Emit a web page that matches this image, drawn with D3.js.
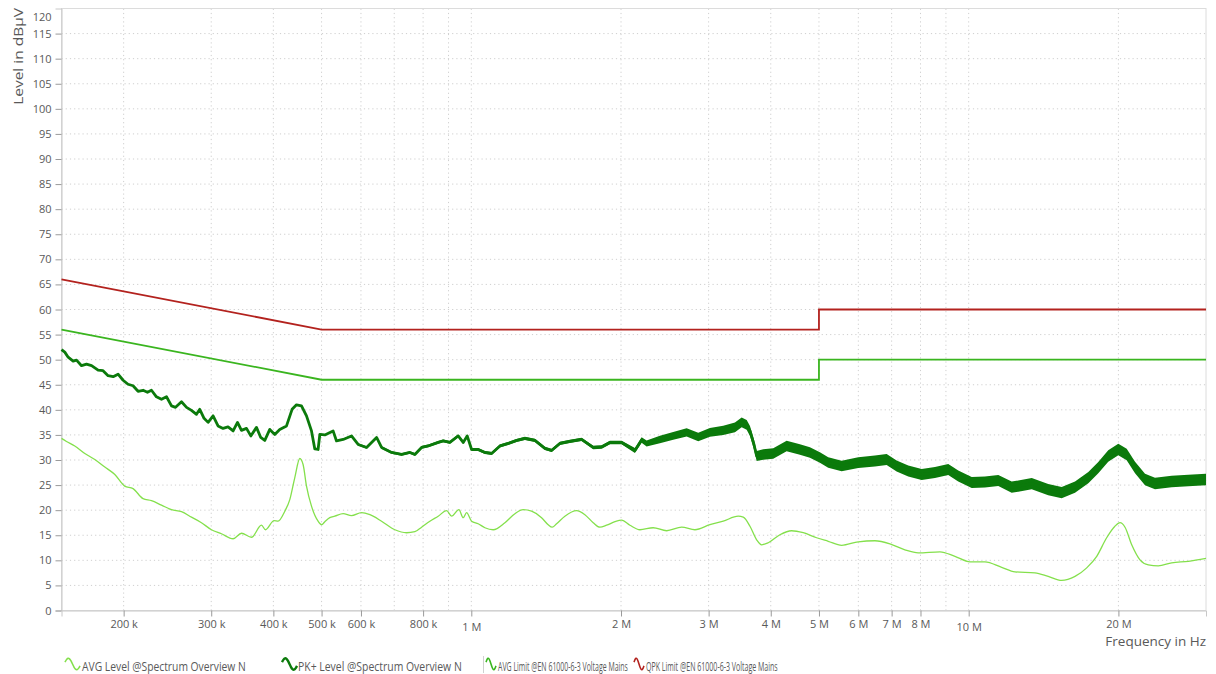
<!DOCTYPE html>
<html>
<head>
<meta charset="utf-8">
<script src="https://cdn.jsdelivr.net/npm/d3@7"></script>
<style>
  body { margin: 0; background: #fff; }
  svg { display: block; font-family: "Open Sans", sans-serif; }
</style>
</head>
<body>
<svg id="chart" width="1216" height="674"></svg>
<script>
// frequencies in MHz, levels in dBµV
const avgFreq = [0.15, 0.1535, 0.1595, 0.1671, 0.175, 0.1833, 0.192, 0.201, 0.2089, 0.2188,
  0.2275, 0.2383, 0.2496, 0.2614, 0.2738, 0.2867, 0.3003, 0.3145, 0.332, 0.3451,
  0.3615, 0.3786, 0.3857, 0.4013, 0.4088, 0.4218, 0.4316, 0.4417, 0.4521, 0.459,
  0.4663, 0.4772, 0.492, 0.5, 0.5076, 0.5194, 0.5316, 0.5525, 0.5743, 0.6015,
  0.6254, 0.6601, 0.702, 0.7411, 0.7701, 0.7944, 0.8255, 0.8579, 0.8919, 0.9128,
  0.9442, 0.9632, 0.9785, 1.0014, 1.0324, 1.065, 1.1067, 1.1683, 1.2237, 1.2716,
  1.3219, 1.3845, 1.4275, 1.4542, 1.4841, 1.5423, 1.6281, 1.692, 1.7583, 1.8138,
  1.871, 1.9443, 2.0055, 2.084, 2.183, 2.321, 2.47, 2.648, 2.816, 3.018,
  3.21, 3.441, 3.522, 3.633, 3.747, 3.834, 3.954, 4.173, 4.405, 4.649,
  4.946, 5.219, 5.554, 5.998, 6.478, 6.945, 7.444, 7.918, 8.756, 9.384,
  10.06, 10.78, 11.65, 12.39, 13.59, 14.45, 15.38, 16.36, 17.27, 18.09,
  18.94, 19.68, 20.15, 20.62, 21.27, 22.1, 22.97, 24.05, 25.59, 27.64, 30];
const avgLevel = [34.3, 33.7, 32.8, 31.3, 30.1, 28.6, 27.1, 24.8, 24.3, 22.3,
  21.9, 21.0, 20.1, 19.7, 18.6, 17.5, 16.1, 15.3, 14.3, 15.4,
  14.6, 17.0, 16.1, 17.9, 17.8, 19.8, 22.1, 26.5, 30.3, 29.1,
  24.8, 20.8, 17.8, 17.1, 17.7, 18.5, 18.8, 19.3, 18.9, 19.5,
  19.1, 17.8, 16.1, 15.5, 15.7, 16.6, 17.8, 18.8, 19.9, 18.8,
  20.1, 18.5, 19.5, 17.8, 17.3, 16.5, 16.1, 17.5, 19.3, 20.1,
  19.8, 18.5, 17.1, 16.6, 17.3, 18.8, 19.9, 19.1, 17.5, 16.6,
  17.0, 17.7, 18.0, 17.0, 16.1, 16.5, 15.9, 16.6, 16.1, 17.1,
  17.8, 18.8, 18.6, 16.8, 14.1, 13.1, 13.5, 15.1, 15.9, 15.5,
  14.5, 13.8, 13.0, 13.7, 13.9, 13.3, 12.1, 11.5, 11.7, 10.8,
  9.7, 9.7, 8.6, 7.7, 7.5, 6.8, 6.0, 6.8, 8.5, 10.8,
  14.5, 16.8, 17.5, 16.6, 13.1, 10.1, 9.1, 8.9, 9.5, 9.8, 10.4];

const pkFreq = [0.15, 0.1523, 0.1547, 0.1583, 0.1608, 0.1646, 0.1684, 0.1724, 0.1777, 0.1818,
  0.1861, 0.1905, 0.1949, 0.1995, 0.2041, 0.2089, 0.2138, 0.2188, 0.2233, 0.2275,
  0.2328, 0.2383, 0.2439, 0.2496, 0.2543, 0.2614, 0.2676, 0.2738, 0.2802, 0.2845,
  0.2902, 0.2957, 0.3026, 0.3096, 0.3169, 0.3243, 0.332, 0.3388, 0.3451, 0.3532,
  0.3603, 0.3699, 0.3773, 0.3844, 0.3934, 0.4026, 0.412, 0.4251, 0.4362, 0.4452,
  0.4556, 0.4663, 0.4772, 0.4846, 0.492, 0.496, 0.5076, 0.5274, 0.5358, 0.5525,
  0.5743, 0.5922, 0.6158, 0.645, 0.6601, 0.6914, 0.7241, 0.7525, 0.7701, 0.7944,
  0.819, 0.8579, 0.878, 0.9056, 0.9411, 0.9632, 0.9812, 1.0014, 1.0324, 1.065,
  1.0985, 1.1416, 1.1863, 1.2334, 1.2817, 1.3424, 1.4059, 1.4501, 1.5069, 1.5783,
  1.6663, 1.7583, 1.8282, 1.8998, 2.0055, 2.1329, 2.2, 2.2515, 2.3943, 2.5463,
  2.7099, 2.8595, 3.018, 3.21, 3.389, 3.496, 3.578, 3.633, 3.701, 3.747,
  3.863, 4.046, 4.305, 4.578, 4.795, 5.022, 5.219, 5.554, 5.998, 6.478,
  6.84, 7.164, 7.559, 8.045, 8.555, 9.098, 9.529, 10.14, 10.78, 11.47,
  12.2, 12.58, 13.39, 14.45, 15.38, 16.36, 17.4, 18.22, 19.08, 19.99,
  20.78, 21.6, 22.62, 23.69, 25.59, 27.64, 30];
const pkLevel = [52.0, 51.5, 50.5, 49.7, 49.9, 48.8, 49.1, 48.8, 47.9, 47.8,
  46.8, 46.6, 47.1, 45.9, 45.1, 44.8, 43.7, 43.9, 43.5, 43.9,
  42.6, 42.1, 42.6, 40.8, 40.5, 41.6, 40.5, 39.9, 39.1, 40.1,
  38.3, 37.5, 38.8, 36.8, 36.3, 36.6, 35.8, 37.5, 35.9, 36.3,
  34.8, 36.5, 34.5, 33.9, 36.1, 35.1, 36.1, 36.8, 40.1, 41.0,
  40.8, 38.8, 35.8, 32.2, 32.1, 35.1, 35.0, 35.8, 33.8, 34.1,
  34.8, 33.1, 32.5, 34.5, 32.5, 31.5, 31.1, 31.5, 31.1, 32.5,
  32.8, 33.5, 33.8, 33.5, 34.8, 33.5, 34.8, 32.1, 32.1, 31.5,
  31.3, 32.8, 33.3, 33.9, 34.3, 33.9, 32.3, 31.9, 33.3, 33.7,
  34.1, 32.5, 32.6, 33.5, 33.5, 31.9, 34.0, 33.3, 34.1, 34.8,
  35.5, 34.6, 35.5, 35.9, 36.5, 37.5, 37.0, 35.8, 33.1, 30.8,
  31.1, 31.3, 32.8, 32.1, 31.5, 30.5, 29.5, 28.8, 29.5, 29.8,
  30.1, 28.8, 27.8, 27.1, 27.5, 28.1, 26.8, 25.5, 25.6, 25.9,
  24.6, 24.8, 25.3, 24.1, 23.5, 24.6, 26.5, 28.5, 30.8, 32.1,
  31.1, 28.5, 26.1, 25.3, 25.7, 25.9, 26.1];

// half width of the PK+ noise band (dB) along the sweep
const noiseFreq = [0.15, 0.5, 0.6, 2, 2.4, 4, 30];
const noiseSpread = [0, 0, 0.25, 0.35, 0.75, 1.05, 1.15];

const avgLimitFreq = [0.15, 0.5, 5, 5, 30];
const avgLimitLevel = [56, 46, 46, 50, 50];
const qpkLimitFreq = [0.15, 0.5, 5, 5, 30];
const qpkLimitLevel = [66, 56, 56, 60, 60];

const xTickValues = [0.2, 0.3, 0.4, 0.5, 0.6, 0.8, 1, 2, 3, 4, 5, 6, 7, 8, 10, 20];
const xTickLabels = ['200 k', '300 k', '400 k', '500 k', '600 k', '800 k', '1 M', '2 M', '3 M',
  '4 M', '5 M', '6 M', '7 M', '8 M', '10 M', '20 M'];
const yTickValues = d3.range(0, 121, 5);

const legendItems = [
  { name: 'AVG Level @Spectrum Overview N', color: '#84e04c', width: 1.3 },
  { name: 'PK+ Level @Spectrum Overview N', color: '#0b7a0b', width: 2.8 },
  { name: 'AVG Limit @EN 61000-6-3 Voltage Mains', color: '#3ab51f', width: 1.8 },
  { name: 'QPK Limit @EN 61000-6-3 Voltage Mains', color: '#b3221e', width: 1.8 }
];

const textColor = '#595959';
const svg = d3.select('#chart');

const x = d3.scaleLog().domain([0.15, 30]).range([61.5, 1206]);
const y = d3.scaleLinear().domain([0, 120]).range([610.5, 8.5]);

// squeeze a text horizontally so it spans `len` pixels
function fitWidth(sel, len, anchorX, anchorY, rotate) {
  const natural = sel.node().getComputedTextLength();
  const k = Math.min(1.2, len / natural);
  sel.attr('x', 0).attr('y', 0)
    .attr('transform', `translate(${anchorX},${anchorY})${rotate ? ' rotate(-90)' : ''} scale(${k},1)`);
}

// grid
const grid = svg.append('g')
  .attr('stroke', '#cfcfcf')
  .attr('stroke-dasharray', '1.2,3');
grid.selectAll('line.h')
  .data(yTickValues.filter((d) => d > 0 && d < 120))
  .join('line')
  .attr('class', 'h')
  .attr('x1', x.range()[0]).attr('x2', x.range()[1])
  .attr('y1', (d) => y(d)).attr('y2', (d) => y(d));
grid.selectAll('line.v')
  .data(x.ticks().filter((d) => d > 0.15 && d < 30))
  .join('line')
  .attr('class', 'v')
  .attr('x1', (d) => x(d)).attr('x2', (d) => x(d))
  .attr('y1', y.range()[0]).attr('y2', y.range()[1]);

// frame
svg.append('rect')
  .attr('x', x.range()[0]).attr('y', y.range()[1])
  .attr('width', x.range()[1] - x.range()[0])
  .attr('height', y.range()[0] - y.range()[1])
  .attr('fill', 'none')
  .attr('stroke', '#dcdcdc');

// axes
const yAxis = svg.append('g')
  .attr('transform', `translate(${x.range()[0]},0)`)
  .call(d3.axisLeft(y).tickValues(yTickValues).tickSize(6).tickPadding(4));
yAxis.select('.domain').attr('stroke', '#c8c8c8');
yAxis.selectAll('.tick line').attr('stroke', '#9a9a9a');
yAxis.selectAll('.tick text')
  .attr('fill', textColor)
  .style('font-family', '"Open Sans", sans-serif')
  .style('font-size', '11px')
  .attr('dy', (d) => (d === 120 ? '1.05em' : '0.32em'));
yAxis.selectAll('.tick').filter((d) => d === 120).select('line').remove();

const xAxis = svg.append('g')
  .attr('transform', `translate(0,${y.range()[0]})`)
  .call(d3.axisBottom(x).tickValues(xTickValues)
    .tickFormat((d, i) => xTickLabels[i]).tickSize(6).tickPadding(4));
xAxis.select('.domain').attr('stroke', '#c8c8c8');
xAxis.selectAll('.tick line').attr('stroke', '#9a9a9a');
xAxis.selectAll('.tick text')
  .attr('fill', textColor)
  .style('font-size', '11px')
  .style('font-family', (d) => (d >= 1 ? '"Liberation Sans Narrow", "Open Sans", sans-serif' : '"Open Sans", sans-serif'))
  .attr('dy', (d) => (d === 1 || d === 10 ? '0.95em' : '0.71em'));

// axis titles
const yTitle = svg.append('text')
  .attr('text-anchor', 'end')
  .attr('fill', textColor)
  .style('font-size', '13.5px')
  .text('Level in dBµV');
fitWidth(yTitle, 97, 23, 8, true);

svg.append('text')
  .attr('x', 1206).attr('y', 646)
  .attr('text-anchor', 'end')
  .attr('fill', textColor)
  .style('font-family', '"Liberation Sans Narrow", "Open Sans", sans-serif')
  .style('font-size', '13.5px')
  .text('Frequency in Hz');

// traces
const plot = svg.append('g');

const lineOf = (freqs, levels, curve) => d3.line()
  .x((d, i) => x(freqs[i]))
  .y((d) => y(d))
  .curve(curve)(levels);

plot.append('path')
  .attr('d', lineOf(qpkLimitFreq, qpkLimitLevel, d3.curveLinear))
  .attr('fill', 'none')
  .attr('stroke', legendItems[3].color)
  .attr('stroke-width', legendItems[3].width);

plot.append('path')
  .attr('d', lineOf(avgLimitFreq, avgLimitLevel, d3.curveLinear))
  .attr('fill', 'none')
  .attr('stroke', legendItems[2].color)
  .attr('stroke-width', legendItems[2].width);

plot.append('path')
  .attr('d', lineOf(avgFreq, avgLevel, d3.curveMonotoneX))
  .attr('fill', 'none')
  .attr('stroke', legendItems[0].color)
  .attr('stroke-width', legendItems[0].width)
  .attr('stroke-linejoin', 'round');

const spreadAt = d3.scaleLog().domain(noiseFreq).range(noiseSpread).clamp(true);
const band = d3.area()
  .x((d, i) => x(pkFreq[i]))
  .y0((d, i) => y(d - spreadAt(pkFreq[i])))
  .y1((d, i) => y(d + spreadAt(pkFreq[i])));

plot.append('path')
  .attr('d', band(pkLevel))
  .attr('fill', legendItems[1].color);

plot.append('path')
  .attr('d', lineOf(pkFreq, pkLevel, d3.curveLinear))
  .attr('fill', 'none')
  .attr('stroke', legendItems[1].color)
  .attr('stroke-width', legendItems[1].width)
  .attr('stroke-linejoin', 'round');

// legend
const legendPos = [
  { icon: 65, iconW: 15, text: 82, len: 164, size: 13.5 },
  { icon: 282, iconW: 15, text: 298, len: 164, size: 13.5 },
  { icon: 486, iconW: 10, text: 498, len: 130, size: 12.5 },
  { icon: 634, iconW: 10, text: 646, len: 132, size: 12.5 }
];
const wave = d3.line().curve(d3.curveBasis);
const legend = svg.append('g');
legendItems.forEach((item, i) => {
  const p = legendPos[i];
  const pts = d3.range(0, 1.001, 0.1)
    .map((t) => [p.icon + t * p.iconW, 664 - 6 * Math.sin(2 * Math.PI * (t * 0.9 + 0.05))]);
  legend.append('path')
    .attr('d', wave(pts))
    .attr('fill', 'none')
    .attr('stroke', item.color)
    .attr('stroke-width', i === 1 ? 2.4 : 1.6);
  const label = legend.append('text')
    .attr('fill', textColor)
    .style('font-family', '"Liberation Sans Narrow", "Open Sans", sans-serif')
    .style('font-size', p.size + 'px')
    .text(item.name);
  fitWidth(label, p.len, p.text, 670.5, false);
});
legend.append('line')
  .attr('x1', 483.5).attr('x2', 483.5)
  .attr('y1', 656).attr('y2', 673)
  .attr('stroke', '#d0d0d0');
</script>
</body>
</html>
